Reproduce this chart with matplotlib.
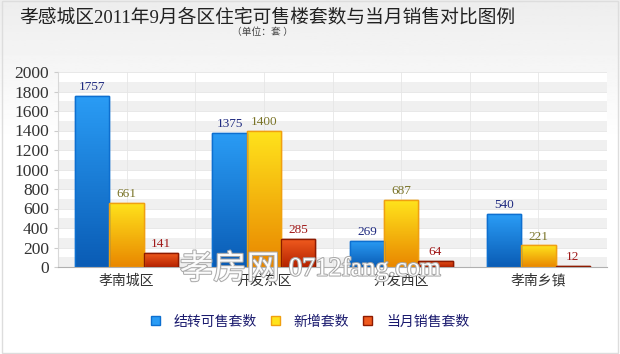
import numpy as np
import matplotlib.pyplot as plt
import matplotlib.patheffects as pe
from matplotlib.patches import Rectangle
from matplotlib.colors import LinearSegmentedColormap

plt.rcParams['font.family'] = ['Liberation Serif', 'Noto Sans CJK SC', 'DejaVu Sans']

districts = ['孝南城区', '开发东区', '开发西区', '孝南乡镇']
series_names = ['结转可售套数', '新增套数', '当月销售套数']
carried = [1757, 1375, 269, 540]
new_units = [661, 1400, 687, 221]
sold = [141, 285, 64, 12]

series = [carried, new_units, sold]
tops = ['#2a9cf5', '#ffe31c', '#ef5a1e']
bottoms = ['#0a5cb5', '#e98700', '#b52300']
edges = ['#0d6fd0', '#f0a010', '#8e1a00']
label_colors = ['#1f2a80', '#7a7428', '#a01818']

fig = plt.figure(figsize=(6.2, 3.54), dpi=100)

# background gradient
bg = fig.add_axes([0, 0, 1, 1], zorder=-10)
grad = np.linspace(0.93, 1.0, 100).reshape(-1, 1)
grad = np.vstack([grad, np.ones((150, 1))])
bg.imshow(grad, cmap='gray', vmin=0, vmax=1, aspect='auto', extent=[0, 1, 0, 1])
bg.add_patch(Rectangle((0.003, 0.003), 0.994, 0.994, fill=False, ec='#dddddd', lw=1,
                       transform=bg.transAxes))
bg.set_axis_off()

ax = fig.add_axes([58 / 620, 87 / 354, 549 / 620, 195 / 354])
ax.set_facecolor('white')
ax.set_xlim(0, 4)
ax.set_ylim(0, 2000)

# stripes
for y0 in range(0, 2000, 200):
    ax.axhspan(y0, y0 + 100, color='#f0f0f0', zorder=0, lw=0)
for y0 in range(200, 2001, 200):
    ax.axhline(y0, color='#e4e4e4', lw=0.6, zorder=0.5)
for xv in np.arange(0.5, 4.01, 0.5):
    ax.axvline(xv, color='#e6e6e6', lw=0.6, zorder=0.5)

width = 0.25
x = np.arange(len(districts)) + 0.5
for i, vals in enumerate(series):
    cmap = LinearSegmentedColormap.from_list('g%d' % i, [bottoms[i], tops[i]])
    pos = x + (i - 1) * width
    bars = ax.bar(pos, vals, width, color=tops[i], edgecolor=edges[i], lw=1, zorder=2)
    for b, v in zip(bars, vals):
        bx, bw = b.get_x(), b.get_width()
        im = ax.imshow(np.linspace(0, 1, 64).reshape(-1, 1), cmap=cmap, origin='lower',
                       extent=[bx, bx + bw, 0, max(v, 1)], aspect='auto', zorder=2.5)
        im.set_clip_path(b)
        ax.add_patch(Rectangle((bx, 0), bw, v, fill=False, ec=edges[i], lw=1, zorder=3))
        ax.text(bx + bw / 2, v + 30, str(v), ha='center', va='bottom', fontsize=9.5,
                color=label_colors[i], zorder=4)

ax.set_xticks(x)
ax.set_xticklabels(districts, fontsize=10, color='#333333')
ax.set_yticks(range(0, 2001, 200))
ax.tick_params(axis='y', labelsize=12.5, colors='#333333', length=3, color='#cccccc')
ax.tick_params(axis='x', length=0, pad=5)
for s in ['top', 'right']:
    ax.spines[s].set_visible(False)
ax.spines['left'].set_color('#d8d8d8')
ax.spines['bottom'].set_color('#b0b0b0')

# watermark
fig.text(0.29, 0.24, '孝房网', fontsize=24, color='white', ha='left', va='center',
         family=['Noto Sans CJK SC'], alpha=0.95,
         path_effects=[pe.withStroke(linewidth=1.5, foreground='#a8a8a8')], zorder=5)
fig.text(0.466, 0.24, '0712fang.com', fontsize=19, color='white', ha='left', va='center',
         path_effects=[pe.withStroke(linewidth=1.5, foreground='#a8a8a8')], zorder=5)

fig.text(267 / 620, 1 - 18 / 354, '孝感城区2011年9月各区住宅可售楼套数与当月销售对比图例',
         ha='center', va='center', fontsize=13.5, color='#222222')
fig.text(262 / 620, 1 - 32 / 354, '（单位：套 ）', ha='center', va='center', fontsize=7,
         color='#444444')

handles = [Rectangle((0, 0), 1, 1, fc=tops[i], ec=edges[i]) for i in range(3)]
leg = fig.legend(handles, series_names, loc='center', bbox_to_anchor=(0.5, 1 - 322 / 354),
                 ncol=3, frameon=False, fontsize=10, handlelength=0.65, handleheight=0.65,
                 columnspacing=1.0, handletextpad=1.0)
for t in leg.get_texts():
    t.set_color('#1a1a6e')

fig.savefig('out.png', dpi=100)
